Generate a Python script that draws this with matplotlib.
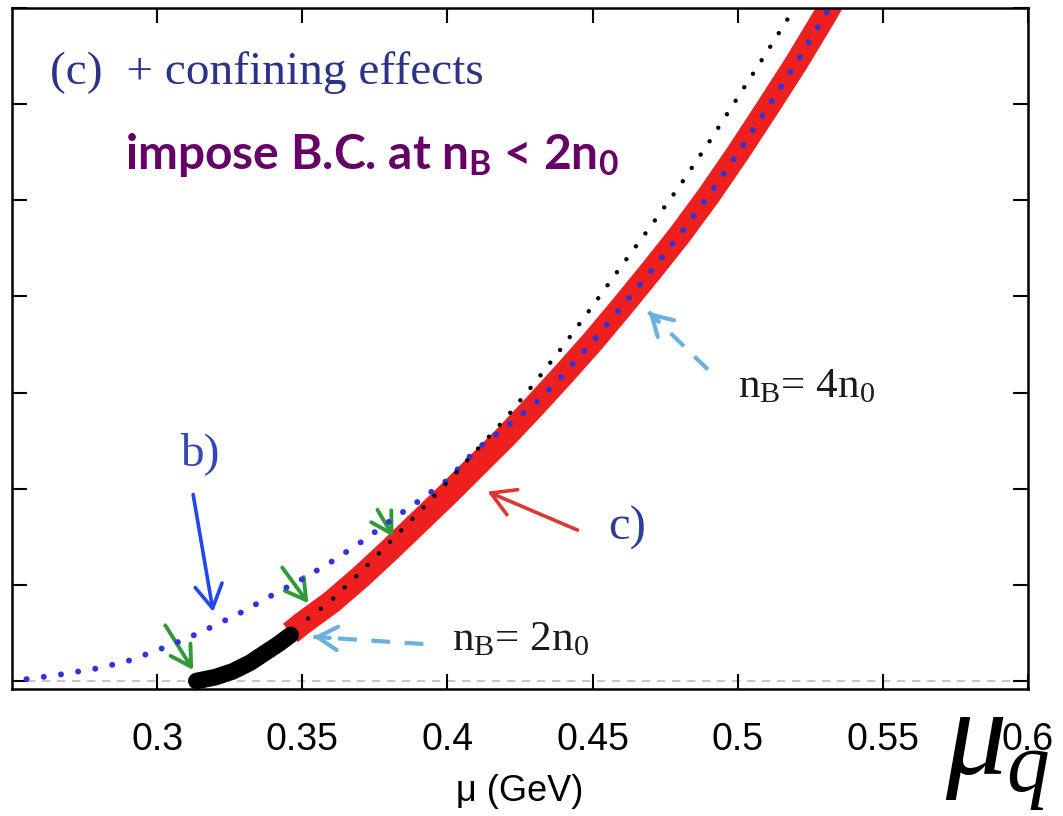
import matplotlib
matplotlib.use('Agg')
import matplotlib.pyplot as plt

plt.rcParams['mathtext.fontset'] = 'custom'
plt.rcParams['mathtext.rm'] = 'Liberation Serif'
plt.rcParams['mathtext.it'] = 'Liberation Serif:italic'
plt.rcParams['mathtext.bf'] = 'Lato:bold'

# b) : dotted blue curve (joins c) above ~0.43 GeV)
mu_b = [0.255, 0.265, 0.28, 0.29, 0.30, 0.31, 0.32, 0.33, 0.34, 0.35, 0.36,
        0.37, 0.38, 0.39, 0.40, 0.41, 0.42, 0.43, 0.44, 0.45, 0.46, 0.47,
        0.48, 0.49, 0.50, 0.51, 0.52, 0.53, 0.54]
p_b = [0.02, 0.06, 0.135, 0.21, 0.32, 0.44, 0.58, 0.73, 0.90, 1.06, 1.24,
       1.44, 1.66, 1.87, 2.09, 2.41, 2.64, 2.88, 3.19, 3.53, 3.89, 4.26,
       4.64, 5.05, 5.49, 5.95, 6.42, 6.92, 7.45]

# c) : thick red curve (n_B > 2 n0)
mu_c = [0.3459, 0.35, 0.36, 0.37, 0.38, 0.39, 0.40, 0.41, 0.42, 0.43, 0.44,
        0.45, 0.46, 0.47, 0.48, 0.49, 0.50, 0.51, 0.52, 0.53, 0.54]
p_c = [0.50, 0.60, 0.82, 1.08, 1.36, 1.65, 1.94, 2.24, 2.54, 2.86, 3.19,
       3.53, 3.89, 4.26, 4.64, 5.05, 5.49, 5.95, 6.42, 6.92, 7.45]

# thick black piece below 2 n0
mu_low = [0.3135, 0.32, 0.326, 0.332, 0.338, 0.342, 0.346]
p_low = [0.0, 0.04, 0.10, 0.19, 0.31, 0.39, 0.48]

# black dotted curve
mu_dot = [0.352, 0.36, 0.37, 0.38, 0.39, 0.40, 0.41, 0.42, 0.43, 0.44,
          0.45, 0.46, 0.47, 0.48, 0.49, 0.50, 0.51, 0.52]
p_dot = [0.65, 0.84, 1.13, 1.44, 1.75, 2.07, 2.40, 2.73, 3.10, 3.49,
         3.90, 4.32, 4.73, 5.15, 5.60, 6.07, 6.54, 7.02]

x_ticks = [0.3, 0.35, 0.4, 0.45, 0.5, 0.55, 0.6]
x_labels = ['0.3', '0.35', '0.4', '0.45', '0.5', '0.55', '0.6']
y_ticks = [0, 1, 2, 3, 4, 5, 6, 7]

# (tail, tip) of the annotation arrows
green_arrows = [((0.3028, 0.58), (0.3124, 0.115)),
                ((0.3431, 1.18), (0.3521, 0.81)),
                ((0.3759, 1.78), (0.3814, 1.50))]
b_arrow = ((0.3124, 1.94), (0.3193, 0.72))
c_arrow = ((0.4448, 1.57), (0.4138, 1.97))
n2_arrow = ((0.3917, 0.385), (0.3538, 0.46))
n4_arrow = ((0.4897, 3.24), (0.4693, 3.84))


def arrow(ax, tail, tip, color, lw=2.4, ms=24):
    ax.annotate('', xy=tip, xytext=tail,
                arrowprops=dict(arrowstyle='->,head_length=0.6,head_width=0.35',
                                color=color, lw=lw, mutation_scale=ms,
                                shrinkA=0, shrinkB=0))


def dashed_arrow(ax, tail, tip, color):
    (x0, y0), (x1, y1) = tail, tip
    ax.plot([x0, x1], [y0, y1], color=color, lw=3, ls=(0, (4.5, 3.5)),
            solid_capstyle='butt')
    back = (x1 - 0.15 * (x1 - x0), y1 - 0.15 * (y1 - y0))
    arrow(ax, back, tip, color, lw=3)


fig = plt.figure(figsize=(10.63, 8.16), dpi=100)
ax = fig.add_axes([0.0113, 0.1556, 0.9558, 0.8346])

ax.axhline(0, color='#bbbbbb', lw=1.2, ls=(0, (5, 4)), zorder=1)

ax.plot(mu_c, p_c, color='#ee1f1f', lw=17, solid_capstyle='butt',
        solid_joinstyle='round', zorder=2)
ax.plot(mu_low, p_low, color='black', lw=12, solid_capstyle='round', zorder=3)
ax.plot(mu_b, p_b, color='#2f35d8', lw=4.3, ls=(0, (0.01, 2.9)),
        dash_capstyle='round', zorder=4)
ax.plot(mu_dot, p_dot, color='black', lw=3.2, ls=(0, (0.01, 3.6)),
        dash_capstyle='round', zorder=4)

for tail, tip in green_arrows:
    arrow(ax, tail, tip, '#2f9a36', lw=2.8)
arrow(ax, *b_arrow, '#2347ee', lw=2.6, ms=28)
arrow(ax, *c_arrow, '#e03535', lw=2.6, ms=28)
dashed_arrow(ax, *n2_arrow, '#6cb0e0')
dashed_arrow(ax, *n4_arrow, '#6cb0e0')

ax.text(0.2631, 6.21, '(c)  + confining effects', family='Liberation Serif',
        fontsize=34, color='#2a3388', va='baseline')
ax.text(0.289, 5.33, 'impose B.C. at n$_\\mathbf{B}$ < 2n$_\\mathbf{0}$',
        family='Lato', weight='bold', fontsize=34.5, color='#660066',
        va='baseline')
ax.text(0.3079, 2.25, 'b)', family='Liberation Serif', fontsize=34,
        color='#3447b5', va='baseline')
ax.text(0.4552, 1.47, 'c)', family='Liberation Serif', fontsize=35,
        color='#2c3c9c', va='baseline')
ax.text(0.4017, 0.32, 'n$_\\mathrm{B}$= 2n$_\\mathrm{0}$',
        family='Liberation Serif', fontsize=31, color='#1a1a1a',
        va='baseline')
ax.text(0.50, 2.95, 'n$_\\mathrm{B}$= 4n$_\\mathrm{0}$',
        family='Liberation Serif', fontsize=31, color='#1a1a1a',
        va='baseline')

ax.set_xlim(0.25, 0.6)
ax.set_ylim(-0.083, 7.0)
ax.set_xticks(x_ticks)
ax.set_xticklabels(x_labels, family='Liberation Sans', fontsize=27)
ax.set_yticks(y_ticks)
ax.tick_params(direction='in', length=11, width=1.5, top=True, right=True,
               labelleft=False, pad=24)
for s in ax.spines.values():
    s.set_linewidth(1.8)
ax.set_xlabel('\u03bc (GeV)', family='Liberation Sans', fontsize=26,
              labelpad=11)

fig.text(0.889, 0.05, r'$\mu_q$', fontsize=88, color='black')

fig.savefig('out.png', dpi=100)
